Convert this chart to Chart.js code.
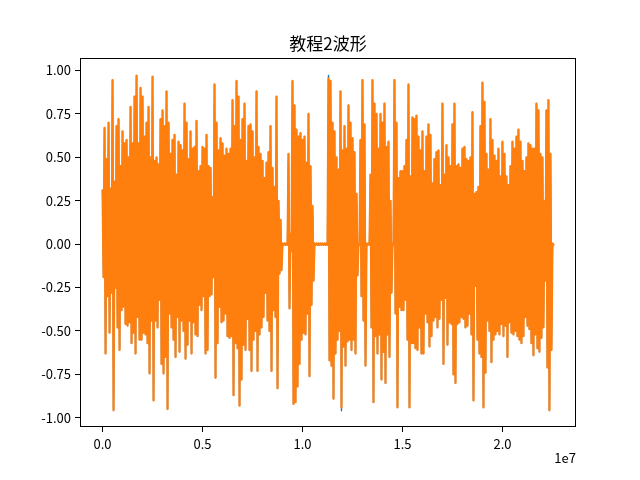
<!DOCTYPE html>
<html><head><meta charset="utf-8">
<script src="https://cdn.jsdelivr.net/npm/chart.js@4.4.1/dist/chart.umd.min.js"></script>
<style>html,body{margin:0;padding:0;background:#fff}</style>
</head><body>
<canvas id="c" width="640" height="480"></canvas>
<script>
// ---- data ----
const chartTitle = '教程2波形';
const columnStep = 100000; // samples per envelope column
const orangeTop = [
0.31,0.67,0.49,0.70,0.32,0.945,0.36,0.68,0.72,0.45,0.65,0.58,0.60,0.50,0.79,0.58,0.85,0.97,0.58,0.90,0.85,0.62,0.70,0.79,0.50,0.965,0.48,0.50,0.46,0.72,0.77,0.68,
0.88,0.70,0.52,0.60,0.63,0.40,0.59,0.57,0.54,0.81,0.70,0.49,0.65,0.55,0.56,0.71,0.42,0.45,0.56,0.55,0.63,0.45,0.44,0.27,0.92,0.70,0.54,0.61,0.58,0.51,0.55,0.52,
0.55,0.83,0.68,0.94,0.85,0.60,0.72,0.81,0.48,0.68,0.69,0.65,0.50,0.88,0.56,0.52,0.48,0.38,0.47,0.53,0.68,0.44,0.33,0.85,0.25,0.14,0.004,0.004,0.004,0.52,0.06,0.94,
0.80,0.66,0.62,0.64,0.60,0.62,0.47,0.75,0.45,0.22,0.004,0.004,0.004,0.004,0.004,0.004,0.004,0.955,0.94,0.70,0.65,0.50,0.43,0.88,0.54,0.68,0.55,0.80,0.70,0.61,0.53,0.29,
0.004,0.60,0.945,0.69,0.004,0.004,0.40,0.945,0.81,0.75,0.55,0.75,0.70,0.81,0.56,0.59,0.25,0.004,0.945,0.70,0.38,0.42,0.42,0.45,0.60,0.92,0.39,0.73,0.72,0.74,0.62,0.54,
0.65,0.42,0.62,0.69,0.63,0.35,0.49,0.53,0.54,0.34,0.81,0.40,0.57,0.50,0.45,0.69,0.81,0.45,0.46,0.44,0.55,0.56,0.49,0.48,0.50,0.76,0.29,0.30,0.33,0.68,0.93,0.82,
0.52,0.43,0.72,0.60,0.51,0.48,0.55,0.39,0.59,0.52,0.39,0.34,0.45,0.59,0.55,0.62,0.66,0.59,0.48,0.42,0.50,0.58,0.57,0.55,0.55,0.81,0.77,0.52,0.50,0.25,0.77,0.83,0.52,0.004
];
const orangeBottom = [
-0.19,-0.63,-0.30,-0.51,-0.28,-0.957,-0.25,-0.48,-0.61,-0.38,-0.36,-0.46,-0.47,-0.45,-0.57,-0.51,-0.63,-0.42,-0.55,-0.55,-0.51,-0.52,-0.57,-0.745,-0.44,-0.90,-0.44,-0.48,-0.32,-0.69,-0.745,-0.65,
-0.95,-0.40,-0.48,-0.55,-0.65,-0.42,-0.62,-0.44,-0.50,-0.66,-0.58,-0.44,-0.63,-0.45,-0.52,-0.53,-0.35,-0.38,-0.30,-0.63,-0.61,-0.30,-0.29,-0.19,-0.77,-0.57,-0.36,-0.45,-0.44,-0.40,-0.53,-0.54,
-0.53,-0.87,-0.57,-0.60,-0.93,-0.78,-0.58,-0.61,-0.43,-0.61,-0.73,-0.55,-0.50,-0.73,-0.52,-0.48,-0.42,-0.28,-0.44,-0.50,-0.73,-0.38,-0.42,-0.83,-0.17,-0.15,-0.004,-0.004,-0.004,-0.37,-0.04,-0.92,
-0.91,-0.82,-0.69,-0.55,-0.51,-0.52,-0.40,-0.76,-0.35,-0.21,-0.004,-0.004,-0.004,-0.004,-0.004,-0.004,-0.004,-0.67,-0.70,-0.89,-0.63,-0.55,-0.50,-0.94,-0.59,-0.70,-0.56,-0.55,-0.61,-0.55,-0.63,-0.18,
-0.004,-0.30,-0.44,-0.70,-0.004,-0.004,-0.48,-0.91,-0.53,-0.63,-0.52,-0.78,-0.62,-0.80,-0.52,-0.65,-0.28,-0.004,-0.40,-0.94,-0.36,-0.38,-0.38,-0.32,-0.55,-0.94,-0.57,-0.57,-0.60,-0.61,-0.48,-0.63,
-0.63,-0.40,-0.45,-0.59,-0.53,-0.44,-0.42,-0.48,-0.43,-0.32,-0.69,-0.31,-0.58,-0.45,-0.46,-0.75,-0.80,-0.46,-0.45,-0.42,-0.43,-0.48,-0.47,-0.40,-0.52,-0.90,-0.24,-0.55,-0.63,-0.65,-0.94,-0.74,
-0.44,-0.50,-0.68,-0.55,-0.52,-0.50,-0.52,-0.46,-0.53,-0.47,-0.65,-0.45,-0.51,-0.52,-0.50,-0.53,-0.55,-0.57,-0.53,-0.42,-0.47,-0.49,-0.57,-0.64,-0.52,-0.60,-0.62,-0.54,-0.48,-0.21,-0.71,-0.957,-0.61,-0.004
];
// blue channel equals orange except where it peeks out
const blueTopOverrides = [[113, 0.972]];
const blueBottomOverrides = [[119, -0.96]];
const xTickValues = [0, 5000000, 10000000, 15000000, 20000000];
const xTickLabels = ['0.0', '0.5', '1.0', '1.5', '2.0'];
const xOffsetText = '1e7';
const yTickValues = [-1, -0.75, -0.5, -0.25, 0, 0.25, 0.5, 0.75, 1];
const yTickLabels = ['-1.00', '-0.75', '-0.50', '-0.25', '0.00', '0.25', '0.50', '0.75', '1.00'];

// ---- build datasets ----
function withOverrides(arr, ov) { const a = arr.slice(); ov.forEach(([i, v]) => { a[i] = v; }); return a; }
function zigzag(top, bot) {
  const pts = [];
  for (let i = 0; i < top.length; i++) {
    pts.push({x: i * columnStep, y: top[i]});
    pts.push({x: i * columnStep + columnStep / 2, y: bot[i]});
  }
  return pts;
}
const blueTop = withOverrides(orangeTop, blueTopOverrides);
const blueBottom = withOverrides(orangeBottom, blueBottomOverrides);

const FONT = "'Noto Sans CJK SC', 'DejaVu Sans', sans-serif";

const framePlugin = {
  id: 'frame',
  afterDraw(chart) {
    const {ctx, chartArea: a} = chart;
    ctx.save();
    ctx.strokeStyle = '#000';
    ctx.lineWidth = 1;
    ctx.strokeRect(Math.round(a.left) + 0.5, Math.round(a.top) + 0.5, Math.round(a.right - a.left) - 1, Math.round(a.bottom - a.top) - 1);
    ctx.fillStyle = '#000';
    ctx.font = '13px ' + FONT;
    ctx.textAlign = 'right';
    ctx.textBaseline = 'middle';
    ctx.fillText(xOffsetText, a.right, 458);
    ctx.restore();
  }
};

new Chart(document.getElementById('c'), {
  type: 'line',
  data: {
    datasets: [
      {data: zigzag(blueTop, blueBottom), borderColor: '#1f77b4', borderWidth: 1.4, pointRadius: 0, order: 1},
      {data: zigzag(orangeTop, orangeBottom), borderColor: '#ff7f0e', borderWidth: 2.2, pointRadius: 0, order: 0}
    ]
  },
  options: {
    responsive: false,
    animation: false,
    parsing: false,
    devicePixelRatio: 1,
    layout: {padding: {left: 0, right: 64, top: 0, bottom: 0}},
    elements: {line: {tension: 0, borderJoinStyle: 'round', borderCapStyle: 'round'}},
    plugins: {
      legend: {display: false},
      tooltip: {enabled: false},
      title: {
        display: true, text: chartTitle, fullSize: false, color: '#000',
        font: {family: FONT, size: 17, weight: 'normal', lineHeight: 1.2},
        padding: {top: 33, bottom: 4.6}
      }
    },
    scales: {
      x: {
        type: 'linear', min: -1127500, max: 23677500,
        afterFit(s) { s.height = 53; },
        afterBuildTicks(s) { s.ticks = xTickValues.map(v => ({value: v})); },
        grid: {display: true, drawOnChartArea: false, drawTicks: true, tickLength: 5, tickColor: '#000', color: '#000'},
        border: {display: false},
        ticks: {
          color: '#000', padding: 4, maxRotation: 0, autoSkip: false,
          font: {family: FONT, size: 13},
          callback(v) { const i = xTickValues.indexOf(v); return i >= 0 ? xTickLabels[i] : ''; }
        }
      },
      y: {
        type: 'linear', min: -1.053, max: 1.072,
        afterFit(s) { s.width = 80; },
        afterBuildTicks(s) { s.ticks = yTickValues.map(v => ({value: v})); },
        grid: {display: true, drawOnChartArea: false, drawTicks: true, tickLength: 5, tickColor: '#000', color: '#000'},
        border: {display: false},
        ticks: {
          color: '#000', padding: 4, autoSkip: false,
          font: {family: FONT, size: 13},
          callback(v) { const i = yTickValues.indexOf(v); return i >= 0 ? yTickLabels[i] : ''; }
        }
      }
    }
  },
  plugins: [framePlugin]
});
</script>
</body></html>
